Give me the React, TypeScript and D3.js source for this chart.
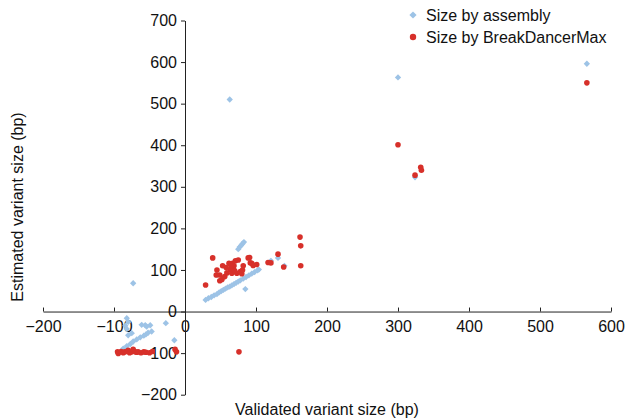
import React, { useEffect, useRef } from 'react';
import * as d3 from 'd3';

// [validated size, estimated size] in bp
const assemblyPoints = [
    [29, 28], [33, 32], [37, 35], [41, 39], [45, 42], [48, 46], [51, 49], [54, 52],
    [57, 55], [60, 58], [63, 60], [66, 63], [69, 66], [72, 69], [75, 72], [78, 75],
    [82, 79], [86, 83], [90, 87], [94, 91], [98, 95], [102, 99], [104, 101],
    [75, 150], [77, 155], [79, 159], [81, 163], [83, 167],
    [85, 54], [45, 88], [121, 122], [131, 129], [140, 110],
    [63, 510], [300, 563], [566, 596], [324, 323], [-73, 68],
    [-82, -16], [-80, -25], [-84, -34], [-82, -42], [-75, -52], [-80, -57],
    [-61, -32], [-56, -33], [-49, -33], [-54, -36], [-27, -28], [-15, -69],
    [-87, -89], [-82, -83], [-77, -78], [-73, -72], [-68, -67], [-63, -62],
    [-58, -58], [-55, -55], [-52, -51], [-47, -48]
];

const breakDancerPoints = [
    [29, 64], [39, 129], [45, 100], [53, 110], [49, 88], [52, 77], [56, 84], [59, 93],
    [62, 116], [64, 101], [66, 92], [67, 116], [68, 104], [69, 110], [73, 92], [78, 96],
    [80, 91], [81, 100], [82, 110], [89, 129], [91, 130], [92, 117], [94, 116], [96, 111],
    [101, 113], [117, 118], [121, 117], [131, 138], [139, 107], [162, 179], [163, 158],
    [163, 110], [58, 106], [71, 122], [75, 124], [65, 110], [70, 98], [44, 88], [49, 74],
    [76, -97], [300, 401], [324, 328], [332, 347], [333, 340], [566, 550],
    [-95, -97], [-94, -101], [-90, -96], [-87, -99], [-85, -97], [-82, -96], [-80, -93],
    [-78, -99], [-75, -97], [-73, -91], [-70, -97], [-68, -98], [-66, -97], [-62, -99],
    [-58, -97], [-55, -98], [-50, -99], [-46, -96], [-14, -91], [-12, -97]
];

const xTicks = [-200, -100, 0, 100, 200, 300, 400, 500, 600];
const yTicks = [-200, -100, 0, 100, 200, 300, 400, 500, 600, 700];
const legendLabels = ["Size by assembly", "Size by BreakDancerMax"];

function App() {
    const chartRef = useRef(null);

    const width = 627;
    const height = 420;
    const blue = "#9dc3e6";
    const red = "#d7302a";
    const font = "'Liberation Sans', Arial, Helvetica, sans-serif";

    useEffect(() => {
        const x = d3.scaleLinear().domain([-200, 600]).range([43, 611]);
        const y = d3.scaleLinear().domain([-200, 700]).range([394.7, 20.5]);

        const svg = d3.select(chartRef.current)
            .attr("width", width)
            .attr("height", height)
            .attr("viewBox", [0, 0, width, height]);

        svg.selectAll("*").remove();

        // x axis sits on y = 0, ticks pointing up
        svg.append("g")
            .attr("transform", `translate(0,${y(0)})`)
            .call(d3.axisBottom(x).tickValues(xTicks).tickSizeInner(-4).tickSizeOuter(0).tickPadding(9))
            .call(g => g.selectAll("text").attr("font-size", 16).attr("font-family", font).attr("fill", "#111"))
            .call(g => g.selectAll("line, path").attr("stroke", "#222"));

        // y axis sits on x = 0
        svg.append("g")
            .attr("transform", `translate(${x(0)},0)`)
            .call(d3.axisLeft(y).tickValues(yTicks).tickSizeInner(4).tickSizeOuter(0).tickPadding(4))
            .call(g => g.selectAll("text").attr("font-size", 16).attr("font-family", font).attr("fill", "#111"))
            .call(g => g.selectAll("line, path").attr("stroke", "#222"));

        const diamond = d3.symbol().type(d3.symbolSquare).size(20);

        svg.append("g")
            .selectAll("path")
            .data(assemblyPoints)
            .join("path")
            .attr("d", diamond)
            .attr("transform", d => `translate(${x(d[0])},${y(d[1])}) rotate(45)`)
            .attr("fill", blue);

        svg.append("g")
            .selectAll("circle")
            .data(breakDancerPoints)
            .join("circle")
            .attr("cx", d => x(d[0]))
            .attr("cy", d => y(d[1]))
            .attr("r", 2.8)
            .attr("fill", red);

        // axis titles
        svg.append("text")
            .attr("x", 327)
            .attr("y", 415)
            .attr("text-anchor", "middle")
            .attr("font-size", 16)
            .attr("font-family", font)
            .attr("fill", "#111")
            .text("Validated variant size (bp)");

        svg.append("text")
            .attr("transform", "translate(23,207) rotate(-90)")
            .attr("text-anchor", "middle")
            .attr("font-size", 16)
            .attr("font-family", font)
            .attr("fill", "#111")
            .text("Estimated variant size (bp)");

        // legend
        const legend = svg.append("g").attr("transform", "translate(413,0)");
        legend.append("path")
            .attr("d", d3.symbol().type(d3.symbolSquare).size(26))
            .attr("transform", "translate(0,15) rotate(45)")
            .attr("fill", blue);
        legend.append("circle")
            .attr("cx", 0)
            .attr("cy", 37)
            .attr("r", 3.2)
            .attr("fill", red);
        legend.selectAll("text")
            .data(legendLabels)
            .join("text")
            .attr("x", 13)
            .attr("y", (d, i) => 20.5 + i * 22.5)
            .attr("font-size", 16)
            .attr("font-family", font)
            .attr("fill", "#111")
            .text(d => d);
    }, []);

    return (
        <div style={{ position: "absolute", left: 0, top: 0 }}>
            <svg ref={chartRef}></svg>
        </div>
    );
}

export default App;
